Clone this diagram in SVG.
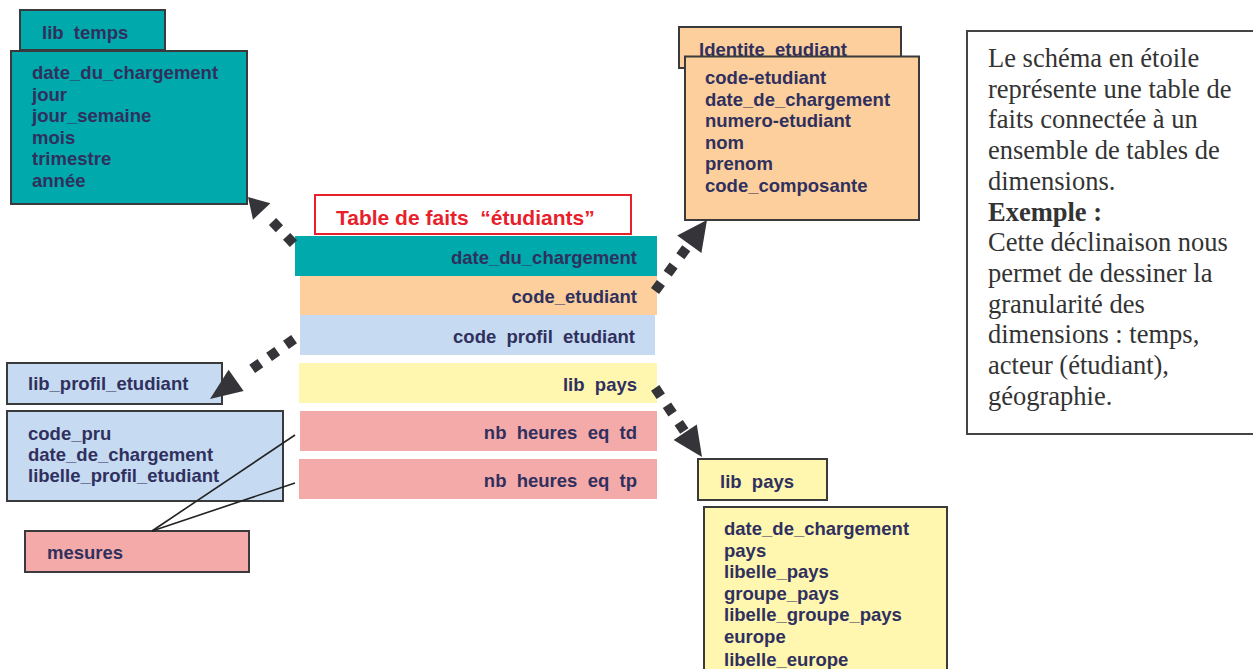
<svg xmlns="http://www.w3.org/2000/svg" width="1253" height="669" viewBox="0 0 1253 669">
<style>
  .lbl { font-family: "Liberation Sans", Arial, sans-serif; font-weight: bold; font-size: 18.5px; fill: #30305E; white-space: pre; }
  .end { text-anchor: end; }
  .box { stroke: #3A3A3C; stroke-width: 2; }
  .teal { fill: #00A9AC; }
  .orange { fill: #FCCF9C; }
  .blue { fill: #C6DAF1; }
  .yellow { fill: #FFF7B0; }
  .pink { fill: #F5AAAA; }
  .title { font-family: "Liberation Sans", Arial, sans-serif; font-weight: bold; font-size: 21px; fill: #E8202A; white-space: pre; }
  .note { font-family: "Liberation Serif", "Times New Roman", serif; font-size: 26.5px; fill: #333333; }
  .dots { fill: none; stroke: #353438; stroke-width: 10; stroke-linecap: butt; }
  .head { fill: #353438; }
  .thin { stroke: #222222; stroke-width: 1.6; fill: none; }
</style>
<rect width="1253" height="669" fill="#FFFFFF"/>

<g id="lib_temps">
  <rect class="box teal" x="20" y="10" width="145" height="40"/>
  <text class="lbl" x="42" y="39">lib  temps</text>
  <rect class="box teal" x="11" y="51" width="236" height="153"/>
  <text class="lbl" x="32" y="79">date_du_chargement</text>
  <text class="lbl" x="32" y="100.5">jour</text>
  <text class="lbl" x="32" y="122">jour_semaine</text>
  <text class="lbl" x="32" y="143.5">mois</text>
  <text class="lbl" x="32" y="165">trimestre</text>
  <text class="lbl" x="32" y="186.5">année</text>
</g>

<g id="identite_etudiant">
  <rect class="box orange" x="679" y="27" width="222" height="41"/>
  <text class="lbl" x="699" y="55.5">Identite_etudiant</text>
  <rect class="box orange" x="685" y="56.5" width="234" height="163.5"/>
  <text class="lbl" x="705" y="84">code-etudiant</text>
  <text class="lbl" x="705" y="105.5">date_de_chargement</text>
  <text class="lbl" x="705" y="127">numero-etudiant</text>
  <text class="lbl" x="705" y="148.5">nom</text>
  <text class="lbl" x="705" y="170">prenom</text>
  <text class="lbl" x="705" y="191.5">code_composante</text>
</g>

<g id="fact_table">
  <rect x="315" y="195" width="316" height="39" fill="#FFFFFF" stroke="#E8202A" stroke-width="2"/>
  <text class="title" x="336" y="225">Table de faits  “étudiants”</text>
  <rect class="teal" x="295" y="236" width="362" height="40"/>
  <text class="lbl end" x="637" y="264">date_du_chargement</text>
  <rect class="orange" x="300" y="276" width="357" height="39"/>
  <text class="lbl end" x="637" y="303">code_etudiant</text>
  <rect class="blue" x="300" y="315" width="355" height="40"/>
  <text class="lbl end" x="635" y="343">code  profil  etudiant</text>
  <rect class="yellow" x="299" y="363" width="358" height="40"/>
  <text class="lbl end" x="637" y="391">lib  pays</text>
  <rect class="pink" x="300" y="411" width="357" height="40"/>
  <text class="lbl end" x="637" y="439">nb  heures  eq  td</text>
  <rect class="pink" x="299" y="459" width="358" height="40"/>
  <text class="lbl end" x="637" y="487">nb  heures  eq  tp</text>
</g>

<g id="lib_profil_etudiant">
  <rect class="box blue" x="7" y="363" width="215" height="41"/>
  <text class="lbl" x="28" y="390">lib_profil_etudiant</text>
  <rect class="box blue" x="7" y="411" width="276" height="90"/>
  <text class="lbl" x="28" y="440">code_pru</text>
  <text class="lbl" x="28" y="461">date_de_chargement</text>
  <text class="lbl" x="28" y="482">libelle_profil_etudiant</text>
</g>

<g id="mesures">
  <rect class="box pink" x="25" y="531" width="224" height="41"/>
  <text class="lbl" x="47" y="559">mesures</text>
</g>

<g id="lib_pays">
  <rect class="box yellow" x="698" y="459" width="129" height="41"/>
  <text class="lbl" x="720" y="488">lib  pays</text>
  <rect class="box yellow" x="704" y="507" width="243" height="175"/>
  <text class="lbl" x="724" y="535">date_de_chargement</text>
  <text class="lbl" x="724" y="556.5">pays</text>
  <text class="lbl" x="724" y="578">libelle_pays</text>
  <text class="lbl" x="724" y="599.5">groupe_pays</text>
  <text class="lbl" x="724" y="621">libelle_groupe_pays</text>
  <text class="lbl" x="724" y="642.5">europe</text>
  <text class="lbl" x="724" y="665.5">libelle_europe</text>
</g>

<g id="note">
  <rect x="967" y="31" width="300" height="403" fill="#FFFFFF" stroke="#444444" stroke-width="2"/>
  <text class="note" x="988" y="67">Le schéma en étoile</text>
  <text class="note" x="988" y="97.7">représente une table de</text>
  <text class="note" x="988" y="128.4">faits connectée à un</text>
  <text class="note" x="988" y="159.1">ensemble de tables de</text>
  <text class="note" x="988" y="189.8">dimensions.</text>
  <text class="note" x="988" y="220.5" font-weight="bold">Exemple :</text>
  <text class="note" x="988" y="251.2">Cette déclinaison nous</text>
  <text class="note" x="988" y="281.9">permet de dessiner la</text>
  <text class="note" x="988" y="312.6">granularité des</text>
  <text class="note" x="988" y="343.3">dimensions : temps,</text>
  <text class="note" x="988" y="374">acteur (étudiant),</text>
  <text class="note" x="988" y="404.7">géographie.</text>
</g>

<g id="connectors">
  <line class="dots" x1="293.5" y1="243.6" x2="272.5" y2="221.4" stroke-dasharray="10 10.5"/>
  <polygon class="head" points="248,197 270.4,203.3 253,219.7"/>

  <line class="dots" x1="294.1" y1="339.1" x2="252.2" y2="368.9" stroke-dasharray="10 10.7"/>
  <polygon class="head" points="210,399 243.6,391 228.6,369.8"/>

  <line class="dots" x1="655" y1="291" x2="686.3" y2="248.2" stroke-dasharray="10 11.5"/>
  <polygon class="head" points="707,220 701.4,253.1 677.2,235.4"/>

  <line class="dots" x1="655.2" y1="387.9" x2="684.3" y2="431" stroke-dasharray="10 11"/>
  <polygon class="head" points="702,457 673.6,440 696.8,424.4"/>

  <line class="thin" x1="152" y1="531" x2="295" y2="435"/>
  <line class="thin" x1="152" y1="531" x2="295" y2="483"/>
</g>
</svg>
